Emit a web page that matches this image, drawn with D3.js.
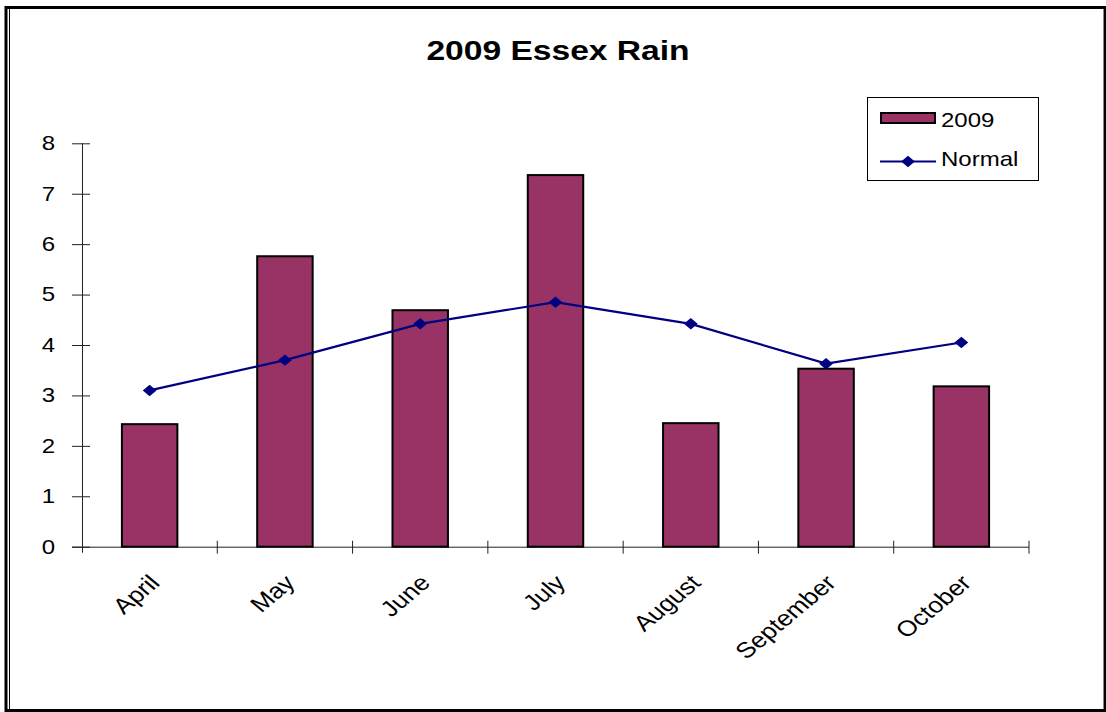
<!DOCTYPE html>
<html>
<head>
<meta charset="utf-8">
<script src="https://cdn.jsdelivr.net/npm/d3@7"></script>
<style>
  body { margin: 0; background: #fff; }
  text { font-family: "Liberation Sans", Arial, sans-serif; fill: #000; }
</style>
</head>
<body>
<div class="chart"></div>
<script>
const months = ["April", "May", "June", "July", "August", "September", "October"];
const rain2009 = [2.43, 5.76, 4.69, 7.37, 2.45, 3.53, 3.18];
const rainNormal = [3.1, 3.7, 4.42, 4.85, 4.42, 3.63, 4.05];
const yTicks = [0, 1, 2, 3, 4, 5, 6, 7, 8];

const svgWidth = 1106,
  svgHeight = 712,
  plotLeft = 82,
  plotRight = 1029,
  plotTop = 143.3,
  plotBottom = 546.7,
  stretch = 1.2,
  barColor = "#993366",
  lineColor = "#000080";

const svg = d3
  .select(".chart")
  .append("svg")
  .attr("width", svgWidth)
  .attr("height", svgHeight);

// frame
svg
  .append("rect")
  .attr("x", 6)
  .attr("y", 7.5)
  .attr("width", 1099)
  .attr("height", 703)
  .attr("fill", "none")
  .attr("stroke", "#000")
  .attr("stroke-width", 3);
svg
  .append("line")
  .attr("x1", 9.5)
  .attr("x2", 9.5)
  .attr("y1", 9)
  .attr("y2", 709)
  .attr("stroke", "#000")
  .attr("stroke-width", 1);
svg
  .append("line")
  .attr("x1", 1103.5)
  .attr("x2", 1103.5)
  .attr("y1", 9)
  .attr("y2", 709)
  .attr("stroke", "#888")
  .attr("stroke-width", 1);

svg
  .append("text")
  .attr("transform", `translate(558, 60) scale(${stretch},1)`)
  .attr("text-anchor", "middle")
  .style("font-size", "28px")
  .style("font-weight", "bold")
  .text("2009 Essex Rain");

const xScale = d3
  .scaleBand()
  .domain(months)
  .range([plotLeft, plotRight])
  .paddingInner(0.59)
  .paddingOuter(0.295);

const yScale = d3.scaleLinear().domain([0, 8]).range([plotBottom, plotTop]);

// y axis
const yAxis = d3.axisLeft(yScale).tickValues(yTicks).tickSizeOuter(0);
const yG = svg
  .append("g")
  .attr("transform", `translate(${plotLeft}, 0)`)
  .call(yAxis);
yG.select(".domain").remove();
yG.selectAll(".tick line").attr("x1", 8).attr("x2", -10).attr("stroke", "#222");
yG.selectAll(".tick text")
  .attr("x", null)
  .attr("transform", `translate(-27, 0) scale(${stretch},1)`)
  .style("font-size", "20px")
  .style("font-family", "'Liberation Sans', Arial, sans-serif")
  .attr("fill", "#000");
svg
  .append("line")
  .attr("x1", plotLeft + 0.5)
  .attr("x2", plotLeft + 0.5)
  .attr("y1", plotTop)
  .attr("y2", plotBottom + 6)
  .attr("stroke", "#222");

// x axis line and boundary ticks
svg
  .append("line")
  .attr("x1", plotLeft - 10)
  .attr("x2", plotRight)
  .attr("y1", plotBottom + 0.5)
  .attr("y2", plotBottom + 0.5)
  .attr("stroke", "#222");
svg
  .selectAll(".xbound")
  .data(d3.range(1, months.length + 1))
  .enter()
  .append("line")
  .attr("x1", (i) => plotLeft + i * xScale.step())
  .attr("x2", (i) => plotLeft + i * xScale.step())
  .attr("y1", plotBottom - 6)
  .attr("y2", plotBottom + 7)
  .attr("stroke", "#222");

// bars
svg
  .selectAll(".bar")
  .data(rain2009)
  .enter()
  .append("rect")
  .attr("x", (d, i) => xScale(months[i]))
  .attr("y", (d) => yScale(d))
  .attr("width", xScale.bandwidth())
  .attr("height", (d) => plotBottom - yScale(d))
  .attr("fill", barColor)
  .attr("stroke", "#000")
  .attr("stroke-width", 2);

// month labels
svg
  .selectAll(".month")
  .data(months)
  .enter()
  .append("text")
  .attr(
    "transform",
    (d) =>
      `translate(${xScale(d) + xScale.bandwidth() / 2 - 2}, 573) scale(${stretch},1) rotate(-45)`
  )
  .attr("text-anchor", "end")
  .attr("dy", "0.72em")
  .style("font-size", "22px")
  .text((d) => d);

// normal line
const normalLine = d3
  .line()
  .x((d, i) => xScale(months[i]) + xScale.bandwidth() / 2)
  .y((d) => yScale(d));

svg
  .append("path")
  .attr("d", normalLine(rainNormal))
  .attr("fill", "none")
  .attr("stroke", lineColor)
  .attr("stroke-width", 2.2);

const diamond = d3.symbol().type(d3.symbolSquare).size(66);

svg
  .selectAll(".marker")
  .data(rainNormal)
  .enter()
  .append("path")
  .attr("d", diamond)
  .attr(
    "transform",
    (d, i) =>
      `translate(${xScale(months[i]) + xScale.bandwidth() / 2}, ${yScale(d)}) scale(${stretch},1) rotate(45)`
  )
  .attr("fill", lineColor);

// legend
const legend = svg.append("g");
legend
  .append("rect")
  .attr("x", 867.5)
  .attr("y", 97.5)
  .attr("width", 171)
  .attr("height", 83)
  .attr("fill", "#fff")
  .attr("stroke", "#000");
legend
  .append("rect")
  .attr("x", 881)
  .attr("y", 113)
  .attr("width", 54)
  .attr("height", 10)
  .attr("fill", barColor)
  .attr("stroke", "#000")
  .attr("stroke-width", 2);
legend
  .append("text")
  .attr("transform", `translate(941, 127) scale(${stretch},1)`)
  .style("font-size", "20px")
  .text("2009");
legend
  .append("line")
  .attr("x1", 880)
  .attr("x2", 936)
  .attr("y1", 161.5)
  .attr("y2", 161.5)
  .attr("stroke", lineColor)
  .attr("stroke-width", 2);
legend
  .append("path")
  .attr("d", diamond)
  .attr("transform", `translate(908, 161.5) scale(${stretch},1) rotate(45)`)
  .attr("fill", lineColor);
legend
  .append("text")
  .attr("transform", `translate(941, 166) scale(${stretch},1)`)
  .style("font-size", "20px")
  .text("Normal");
</script>
</body>
</html>
